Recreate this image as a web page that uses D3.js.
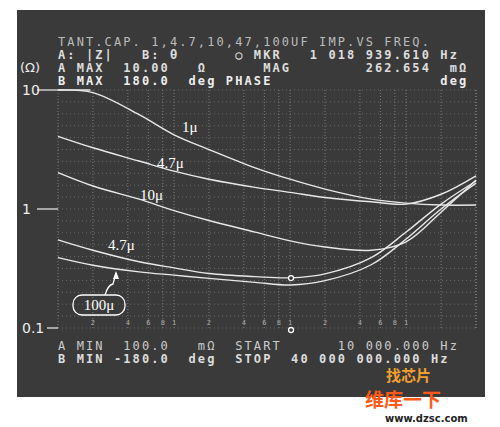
<!DOCTYPE html>
<html><head><meta charset="utf-8">
<script src="https://cdn.jsdelivr.net/npm/d3@7"></script>
<style>body{margin:0;background:#fff}</style>
</head><body>
<svg id="chart" width="500" height="427"></svg>
<script>
var freqs = [1e4, 2e4, 5e4, 1e5, 2e5, 5e5, 1e6, 2e6, 5e6, 1e7, 2e7, 4e7];
var z1u   = [10, 9.5, 6.2, 4.2, 3.16, 2.22, 1.78, 1.47, 1.21, 1.12, 1.08, 1.08];
var z4u7  = [4.08, 3.27, 2.53, 2.08, 1.78, 1.52, 1.38, 1.25, 1.15, 1.10, 1.33, 1.9];
var z10u  = [2.02, 1.56, 1.21, 0.97, 0.80, 0.64, 0.54, 0.48, 0.45, 0.53, 0.94, 1.75];
var z47u  = [0.55, 0.45, 0.36, 0.32, 0.287, 0.27, 0.264, 0.285, 0.39, 0.64, 1.10, 1.72];
var z100u = [0.39, 0.337, 0.296, 0.278, 0.261, 0.242, 0.23, 0.25, 0.34, 0.56, 1.0, 1.65];
var yTicks = [10, 1, 0.1];
var markerFreq = 1018939.61, markerZ = 0.262654;

var svg = d3.select("#chart");
var mono = "'DejaVu Sans Mono', monospace";

svg.append("rect").attr("x", 17).attr("y", 10).attr("width", 468).attr("height", 387)
	.attr("fill", "#3a3a3a");

var x = d3.scaleLog().domain([1e4, 4e7]).range([58, 476]);
var y = d3.scaleLog().domain([0.1, 10]).range([328, 90]);

// grid
var g = svg.append("g");
var vx = [];
[1e4, 1e5, 1e6, 1e7].forEach(function(d) {
	[1, 2, 4, 6, 8].forEach(function(m) { if (d * m <= 4e7) vx.push(d * m); });
});
vx.push(4e7);
g.selectAll(".vg").data(vx).enter().append("line")
	.attr("x1", function(d) { return x(d); }).attr("x2", function(d) { return x(d); })
	.attr("y1", 90).attr("y2", 328)
	.attr("stroke", "#9a9a9a").attr("stroke-width", 0.7).attr("stroke-dasharray", "1,2");
g.selectAll(".hg").data(d3.range(0, 21)).enter().append("line")
	.attr("x1", 58).attr("x2", 476)
	.attr("y1", function(d) { return 90 + d * 238 / 20; }).attr("y2", function(d) { return 90 + d * 238 / 20; })
	.attr("stroke", "#8a8a8a").attr("stroke-width", 0.6).attr("stroke-dasharray", "1,3");

// y axis labels
yTicks.forEach(function(t) {
	svg.append("text").attr("x", 22).attr("y", y(t) + 5).attr("fill", "#eee")
		.attr("font-family", "'DejaVu Sans', sans-serif").attr("font-size", 14).text(String(t));
	svg.append("line").attr("x1", t === 0.1 ? 47 : 37).attr("x2", 58).attr("y1", y(t)).attr("y2", y(t))
		.attr("stroke", "#eee").attr("stroke-width", 1.2);
});
svg.append("text").attr("x", 20).attr("y", 72).attr("fill", "#eee")
	.attr("font-family", "'DejaVu Sans', sans-serif").attr("font-size", 13).text("(Ω)");

// bottom axis small digits
var subLbl = [2, 4, 6, 8, 1];
[1e4, 1e5, 1e6].forEach(function(d) {
	[2, 4, 6, 8, 10].forEach(function(m, i) {
		svg.append("text").attr("x", x(d * m)).attr("y", 325).attr("text-anchor", "middle")
			.attr("fill", "#aaa").attr("font-family", mono).attr("font-size", 7).text(subLbl[i]);
	});
});

// curves
var line = d3.line().x(function(d, i) { return x(freqs[i]); }).y(function(d) { return y(d); })
	.curve(d3.curveCatmullRom.alpha(0.5));
var series = [z1u, z4u7, z10u, z47u, z100u];
svg.selectAll(".curve").data(series).enter().append("path")
	.attr("d", line).attr("fill", "none").attr("stroke", "#e8e8e8").attr("stroke-width", 1.4);
svg.append("line").attr("x1", 58).attr("x2", x(1.9e4)).attr("y1", y(10)).attr("y2", y(10))
	.attr("stroke", "#e8e8e8").attr("stroke-width", 1.4);

// markers
svg.append("circle").attr("cx", x(markerFreq)).attr("cy", y(markerZ)).attr("r", 2.5)
	.attr("fill", "#3a3a3a").attr("stroke", "#fff").attr("stroke-width", 1.3);
svg.append("circle").attr("cx", x(markerFreq)).attr("cy", 330).attr("r", 2.5)
	.attr("fill", "#3a3a3a").attr("stroke", "#fff").attr("stroke-width", 1.3);

// curve labels
var serif = "'Liberation Serif', serif";
[["1μ", 182, 132], ["4.7μ", 157, 168], ["10μ", 140, 200], ["4.7μ", 108, 250]].forEach(function(l) {
	svg.append("text").attr("x", l[1]).attr("y", l[2]).attr("fill", "#fff")
		.attr("font-family", serif).attr("font-size", 15).text(l[0]);
});
svg.append("rect").attr("x", 73).attr("y", 295).attr("width", 52).attr("height", 20).attr("rx", 9)
	.attr("fill", "none").attr("stroke", "#fff").attr("stroke-width", 1.3);
svg.append("text").attr("x", 99).attr("y", 310).attr("text-anchor", "middle").attr("fill", "#fff")
	.attr("font-family", serif).attr("font-size", 15).text("100μ");
svg.append("path").attr("d", "M105,295 Q108,285 113,284 L116,273").attr("fill", "none")
	.attr("stroke", "#fff").attr("stroke-width", 1.3);
svg.append("path").attr("d", "M116,271 L113,279 L119,279 Z").attr("fill", "#fff");

// header text
function t(xp, yp, s, col, bold) {
	svg.append("text").attr("x", xp).attr("y", yp).attr("fill", col || "#ccc")
		.attr("font-family", mono).attr("font-size", 12).attr("font-weight", bold ? "bold" : "normal")
		.attr("letter-spacing", 2.1).attr("xml:space", "preserve").text(s);
}
t(58, 46, "TANT.CAP. 1,4.7,10,47,100UF IMP.VS FREQ.", "#bbb");
t(58, 59, "A: |Z|   B: θ      ○ MKR   1 018 939.610 Hz", "#ddd", true);
t(58, 72, "A MAX  10.00   Ω      MAG        262.654  mΩ", "#ddd", true);
t(58, 85, "B MAX  180.0  deg PHASE                  deg", "#eee", true);
t(58, 350, "A MIN  100.0   mΩ  START      10 000.000 Hz", "#ccc");
t(58, 363, "B MIN -180.0  deg  STOP  40 000 000.000 Hz", "#ddd", true);

// watermark
svg.append("text").attr("x", 386).attr("y", 381).attr("fill", "#f0a030")
	.attr("font-family", "'Noto Sans CJK SC'").attr("font-size", 15).attr("font-weight", "bold").text("找芯片");
svg.append("text").attr("x", 365).attr("y", 407).attr("fill", "#ff5a1a")
	.attr("font-family", "'Noto Sans CJK SC'").attr("font-size", 19).attr("font-weight", "bold").text("维库一下");
svg.append("text").attr("x", 385).attr("y", 422).attr("fill", "#222")
	.attr("font-family", "'DejaVu Sans', sans-serif").attr("font-size", 10).attr("font-weight", "bold").text("www.dzsc.com");
</script>
</body></html>
